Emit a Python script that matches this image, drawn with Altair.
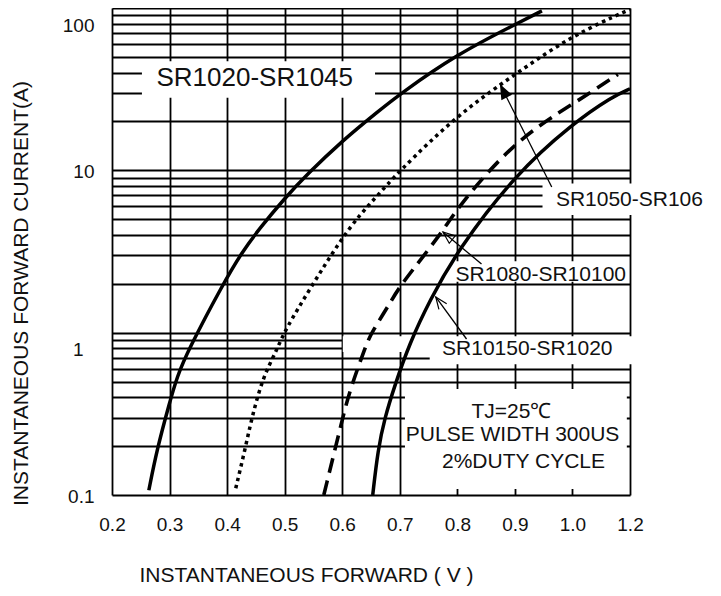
import altair as alt
import pandas as pd

# ---------------- data ----------------
X_TICKS = [0.2, 0.3, 0.4, 0.5, 0.6, 0.7, 0.8, 0.9, 1.0, 1.2]
Y_GRID = [0.1, 0.2, 0.3, 0.4, 0.5, 0.6, 0.7, 0.8, 0.9,
          1, 2, 3, 4, 5, 6, 7, 8, 9,
          10, 20, 30, 40, 50, 60, 70, 80, 90, 100]

V_1020 = [0.264, 0.278, 0.300, 0.313, 0.332, 0.393, 0.427, 0.457, 0.500, 0.539, 0.599, 0.662, 0.700, 0.800, 0.900, 0.947]
I_1020 = [0.107, 0.19, 0.37, 0.535, 0.776, 2.0, 3.18, 4.41, 6.73, 9.44, 15.1, 23.0, 29.5, 52, 79, 96]

V_1050 = [0.415, 0.431, 0.443, 0.462, 0.486, 0.500, 0.547, 0.596, 0.631, 0.660, 0.695, 0.800, 0.900, 1.000, 1.200]
I_1050 = [0.11, 0.19, 0.30, 0.53, 0.776, 1.03, 1.94, 3.67, 5.35, 6.9, 9.56, 22, 39, 68, 98]

V_1080 = [0.568, 0.601, 0.613, 0.642, 0.651, 0.686, 0.700, 0.775, 0.800, 0.900, 1.000, 1.158]
I_1080 = [0.10, 0.30, 0.44, 0.85, 1.0, 1.58, 1.94, 4.2, 5.9, 15.3, 25.5, 39]

V_10150 = [0.653, 0.662, 0.674, 0.691, 0.717, 0.752, 0.800, 0.900, 1.000, 1.139, 1.200]
I_10150 = [0.10, 0.19, 0.30, 0.47, 0.86, 1.58, 3.2, 9.4, 19.4, 28.5, 31.8]

# white label backgrounds (data coordinates)
BOX_V1 = [0.252, 0.948, 0.795, 0.752, 0.601, 0.709]
BOX_V2 = [0.657, 1.483, 1.190, 1.483, 0.760, 1.189]
BOX_I1 = [28, 5.3, 2.06, 0.64, 0.76, 0.109]
BOX_I2 = [47, 8.3, 2.75, 0.95, 0.95, 0.45]

# annotation texts
BIG_TEXT = ["SR1020-SR1045"]
BIG_V = [0.448]
BIG_I = [37]
TEXTS = ["SR1050-SR106", "SR1080-SR10100", "SR10150-SR1020",
         "TJ=25℃", "PULSE WIDTH 300US", "2%DUTY CYCLE"]
TEXT_V = [1.198, 0.945, 0.9215, 0.894, 0.896, 0.915]
TEXT_I = [6.56, 2.27, 0.793, 0.325, 0.234, 0.160]

# arrows: tail -> tip
ARROW_KIND = ["filled", "hollow", "open"]
ARROW_V_TAIL = [0.964, 0.842, 0.816]
ARROW_I_TAIL = [7.9, 2.65, 0.914]
ARROW_V_TIP = [0.874, 0.775, 0.7625]
ARROW_I_TIP = [34.0, 4.17, 1.66]

# ---------------- chart ----------------
FONT = "Liberation Sans"
W, H = 518, 487

xs = alt.Scale(domain=[0.2, 1.0, 1.2], range=[0, W * 8 / 9, W], nice=False, zero=False)
ys = alt.Scale(type="log", domain=[0.1, 100], nice=False)

x_axis = alt.Axis(values=X_TICKS, format=".1f", grid=True, ticks=False, domain=False,
                  labelFlush=False, labelOverlap=False, labelPadding=20, labelFontSize=19,
                  title="INSTANTANEOUS FORWARD ( V )", titleFontSize=21,
                  titleX=194, titleY=80, titleAlign="center", titleBaseline="middle")
y_axis = alt.Axis(values=Y_GRID, grid=True, ticks=False, domain=False,
                  labelExpr="datum.value == 100 ? '100' : datum.value == 10 ? '10' : datum.value == 1 ? '1' : datum.value == 0.1 ? '0.1' : ''",
                  labelOverlap=False, labelFlush=False, labelFontSize=19,
                  labelOffset={"condition": {"test": "datum.value == 100 || datum.value == 1", "value": 17}, "value": 1},
                  labelPadding={"condition": {"test": "datum.value == 1", "value": 29}, "value": 18},
                  title="INSTANTANEOUS FORWARD CURRENT(A)", titleFontSize=21,
                  titleX=-91, titleY=285, titleAngle=270, titleAlign="center", titleBaseline="middle")

X = alt.X("v:Q", scale=xs, axis=x_axis)
Y = alt.Y("i:Q", scale=ys, axis=y_axis)
X2 = alt.X("v2:Q", scale=xs, axis=x_axis)
Y2 = alt.Y("i2:Q", scale=ys, axis=y_axis)

boxes_df = pd.DataFrame({"v": BOX_V1, "v2": BOX_V2, "i": BOX_I1, "i2": BOX_I2})
boxes = alt.Chart(boxes_df).mark_rect(fill="white", strokeWidth=0).encode(
    x=X, x2="v2:Q", y=Y, y2="i2:Q")


def curve(v, i, **kw):
    return alt.Chart(pd.DataFrame({"v": v, "i": i})).mark_line(
        color="black", interpolate="basis", **kw).encode(x=X, y=Y, order="v:Q")


c1 = curve(V_1020, I_1020, strokeWidth=3.5)
c2 = curve(V_1050, I_1050, strokeWidth=3.5, strokeDash=[3.5, 4])
c3 = curve(V_1080, I_1080, strokeWidth=3.6, strokeDash=[15, 8])
c4 = curve(V_10150, I_10150, strokeWidth=3.5)

arr_df = pd.DataFrame({"kind": ARROW_KIND, "v": ARROW_V_TAIL, "i": ARROW_I_TAIL,
                       "v2": ARROW_V_TIP, "i2": ARROW_I_TIP})
arrow_lines = alt.Chart(arr_df).mark_rule(color="black", strokeWidth=1.3).encode(
    x=X, x2="v2:Q", y=Y, y2="i2:Q")

TRI = "M0,0L-0.4,1L0.4,1Z"
VEE = "M-0.4,1L0,0L0.4,1"
headA = alt.Chart(arr_df).transform_filter("datum.kind == 'filled'").mark_point(
    shape=TRI, filled=True, color="black", size=900, angle=333, opacity=1).encode(x=X2, y=Y2)
headB = alt.Chart(arr_df).transform_filter("datum.kind == 'hollow'").mark_point(
    shape=TRI, filled=False, color="black", strokeWidth=1.2, size=576, angle=309, opacity=1).encode(x=X2, y=Y2)
headC = alt.Chart(arr_df).transform_filter("datum.kind == 'open'").mark_point(
    shape=VEE, filled=False, color="black", strokeWidth=1.2, size=576, angle=324, opacity=1).encode(x=X2, y=Y2)

big_text = alt.Chart(pd.DataFrame({"t": BIG_TEXT, "v": BIG_V, "i": BIG_I})).mark_text(
    font=FONT, fontSize=26, color="#111", align="center", baseline="middle").encode(
    x=X, y=Y, text="t:N")
texts = alt.Chart(pd.DataFrame({"t": TEXTS, "v": TEXT_V, "i": TEXT_I})).mark_text(
    font=FONT, fontSize=21, color="#111", align="center", baseline="middle").encode(
    x=X, y=Y, text="t:N")

chart = alt.layer(boxes, c1, c2, c3, c4, arrow_lines, headA, headB, headC, big_text, texts).properties(
    width=W, height=H,
    padding={"left": 104, "top": 0, "right": 83, "bottom": 93},
    autosize=alt.AutoSizeParams(type="none"),
).configure_view(stroke="transparent").configure_axis(
    gridColor="black", gridWidth=1.8, gridOpacity=1,
    labelColor="#111", labelFont=FONT, titleFont=FONT, titleColor="#111",
    titleFontWeight="normal",
)

chart.save("out.html", embed_options={"renderer": "svg", "actions": False})
